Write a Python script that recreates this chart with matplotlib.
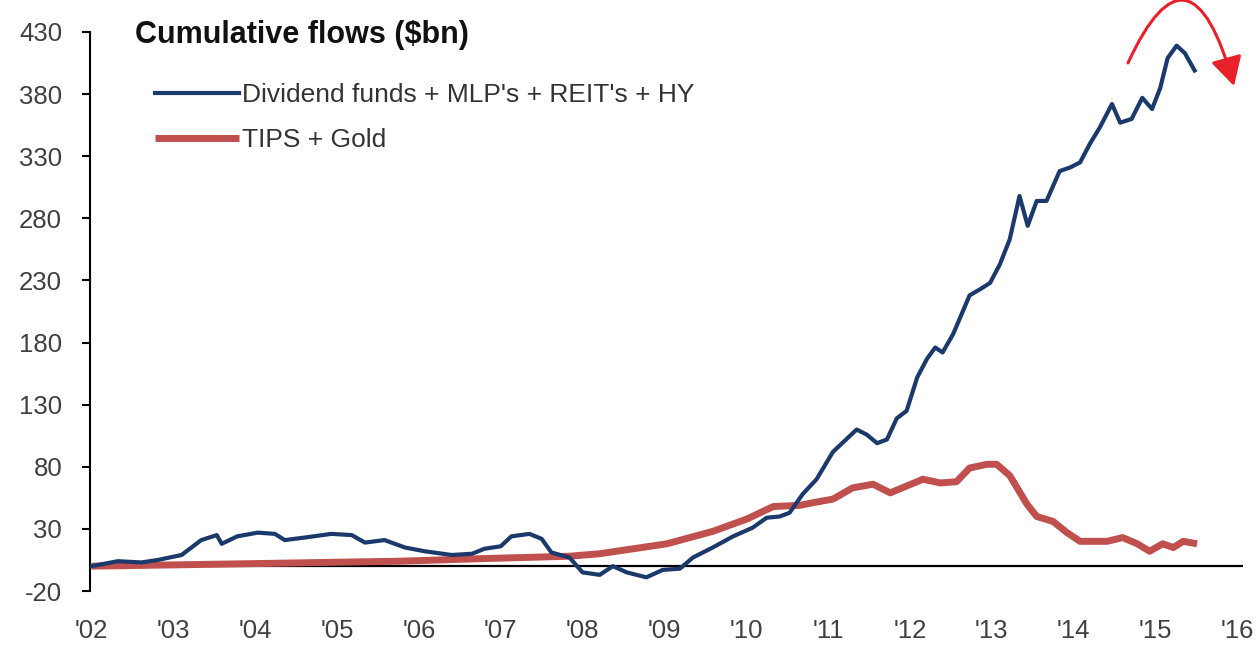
import matplotlib
matplotlib.use("Agg")
import matplotlib.pyplot as plt
from matplotlib.path import Path
from matplotlib.patches import FancyArrowPatch

# cumulative flows, $bn
div_years = [2002.00, 2002.32, 2002.61, 2002.81, 2003.10, 2003.34, 2003.53, 2003.59, 2003.78,
             2004.03, 2004.24, 2004.36, 2004.60, 2004.93, 2005.18, 2005.34, 2005.58, 2005.83,
             2006.07, 2006.40, 2006.65, 2006.80, 2007.00, 2007.13, 2007.35, 2007.50, 2007.62,
             2007.84, 2008.00, 2008.21, 2008.37, 2008.54, 2008.78, 2008.98, 2009.19, 2009.35,
             2009.59, 2009.84, 2010.08, 2010.25, 2010.41, 2010.53, 2010.69, 2010.86, 2011.06,
             2011.35, 2011.47, 2011.60, 2011.72, 2011.84, 2011.96, 2012.09, 2012.21, 2012.31,
             2012.40, 2012.53, 2012.73, 2012.86, 2012.98, 2013.10, 2013.22, 2013.34, 2013.44,
             2013.55, 2013.67, 2013.83, 2013.96, 2014.08, 2014.20, 2014.32, 2014.47, 2014.57,
             2014.71, 2014.84, 2014.96, 2015.06, 2015.15, 2015.26, 2015.36, 2015.48]
div_flows = [0, 4, 3, 5, 9, 21, 25, 18, 24,
             27, 26, 21, 23, 26, 25, 19, 21, 15,
             12, 9, 10, 14, 16, 24, 26, 22, 11,
             7, -5, -7, 0, -5, -9, -3, -2, 7,
             15, 24, 31, 39, 40, 43, 58, 70, 92,
             110, 106, 99, 102, 119, 125, 152, 167, 176,
             172, 187, 218, 223, 228, 243, 263, 298, 274,
             294, 294, 318, 321, 325, 340, 353, 372, 357,
             360, 377, 368, 385, 409, 419, 413, 399]

tips_years = [2002.00, 2003.93, 2005.77, 2006.74, 2007.84, 2008.21, 2009.03, 2009.59, 2010.01,
              2010.33, 2010.66, 2010.81, 2011.06, 2011.30, 2011.55, 2011.76, 2012.16, 2012.37,
              2012.57, 2012.73, 2012.94, 2013.06, 2013.22, 2013.43, 2013.55, 2013.75, 2013.92,
              2014.08, 2014.41, 2014.60, 2014.78, 2014.93, 2015.09, 2015.22, 2015.34, 2015.51]
tips_flows = [0, 2, 4, 6, 8, 10, 18, 28, 38,
              48, 49, 51, 54, 63, 66, 59, 70, 67,
              68, 79, 82, 82, 73, 50, 40, 36, 27,
              20, 20, 23, 18, 12, 18, 15, 20, 18]

year_ticks = list(range(2002, 2017))
year_labels = ["'%02d" % (y - 2000) for y in year_ticks]
y_ticks = list(range(-20, 431, 50))

plt.rcParams['font.family'] = ['Liberation Sans', 'DejaVu Sans']
plt.rcParams['axes.unicode_minus'] = False

W, H = 1258, 645
fig = plt.figure(figsize=(W / 100, H / 100), dpi=100)
ax = fig.add_axes([0.0715, 0.0837, 0.9165, 0.8667])

ax.axhline(0, color='black', lw=1.6, zorder=1)
ax.plot(tips_years, tips_flows, color='#C0504D', lw=5, solid_capstyle='butt',
        label='TIPS + Gold', zorder=2)
ax.plot(div_years, div_flows, color='#1B3A6B', lw=3, solid_joinstyle='round',
        label="Dividend funds + MLP's + REIT's + HY", zorder=3)

ax.set_xlim(2001.98, 2016.07)
ax.set_ylim(-20, 430)
ax.set_yticks(y_ticks)
ax.set_xticks(year_ticks)
ax.set_xticklabels(year_labels)

for s in ['top', 'right', 'bottom']:
    ax.spines[s].set_visible(False)
ax.spines['left'].set_linewidth(1.5)
ax.tick_params(axis='y', length=6, width=1.5, pad=14, labelsize=18.5, labelcolor='#404040')
ax.tick_params(axis='x', length=0, pad=20, labelsize=18.5, labelcolor='#404040')

fig.text(135 / W, 1 - 35 / H, 'Cumulative flows ($bn)', fontsize=22, fontweight='bold',
         va='center', ha='left', color='#111111')

h, l = ax.get_legend_handles_labels()
ax.legend(h[::-1], l[::-1], loc='upper left', bbox_to_anchor=(155 / W, 1 - 83 / H),
          bbox_transform=fig.transFigure, frameon=False, fontsize=19, handlelength=3.2,
          handletextpad=0.08, labelspacing=0.79, borderpad=0, borderaxespad=0,
          labelcolor='#333333')

# red curved arrow over the peak (pixel positions, y measured from the top)
arc_px = [(1128, 63), (1190, -72), (1234, 86)]
arc = Path([(x / W, 1 - y / H) for x, y in arc_px], [Path.MOVETO, Path.CURVE3, Path.CURVE3])
arrow = FancyArrowPatch(path=arc, arrowstyle='-|>,head_length=0.55,head_width=0.3',
                        mutation_scale=32, color='#E8202A', lw=2.2,
                        transform=fig.transFigure)
fig.add_artist(arrow)

fig.savefig('out.png', dpi=100)
